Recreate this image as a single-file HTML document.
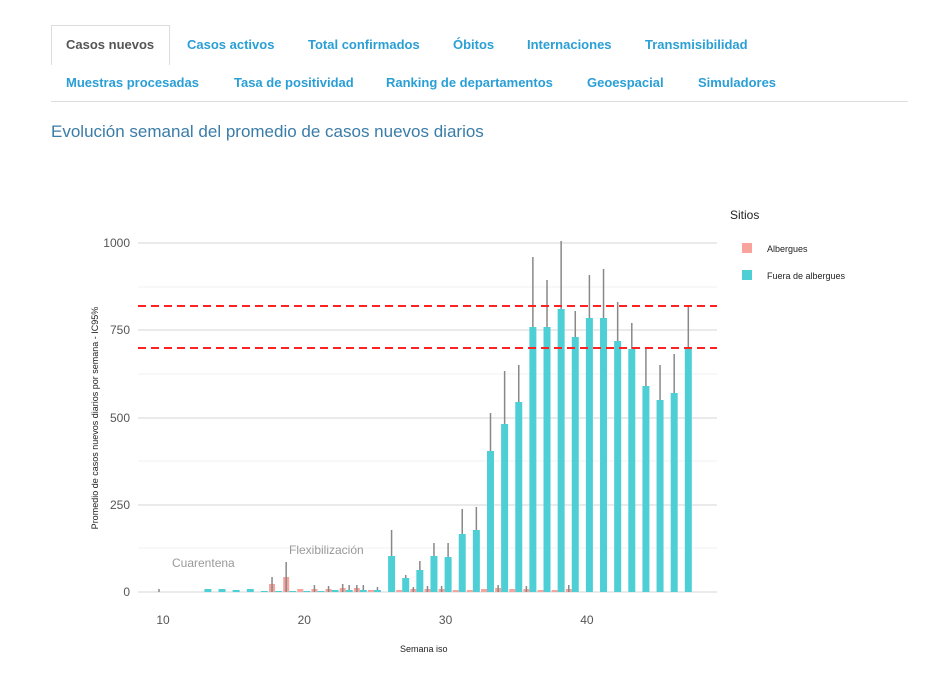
<!DOCTYPE html><html><head><meta charset="utf-8"><style>
body{margin:0;width:929px;height:675px;background:#fff;font-family:"Liberation Sans",sans-serif;position:relative;overflow:hidden}
.t{position:absolute;font-size:13px;font-weight:bold;color:#2a9fd6}
.act{position:absolute;left:51px;top:25px;width:117px;height:39px;border:1px solid #ddd;border-bottom:none;background:#fff}
</style></head><body>
<div class="act"></div>
<div class="t" style="left:66px;top:37px;color:#555">Casos nuevos</div>
<div class="t" style="left:187px;top:37px">Casos activos</div>
<div class="t" style="left:308px;top:37px">Total confirmados</div>
<div class="t" style="left:453px;top:37px">Óbitos</div>
<div class="t" style="left:527px;top:37px">Internaciones</div>
<div class="t" style="left:645px;top:37px">Transmisibilidad</div>
<div class="t" style="left:66px;top:75px">Muestras procesadas</div>
<div class="t" style="left:234px;top:75px">Tasa de positividad</div>
<div class="t" style="left:386px;top:75px">Ranking de departamentos</div>
<div class="t" style="left:587px;top:75px">Geoespacial</div>
<div class="t" style="left:698px;top:75px">Simuladores</div>
<div style="position:absolute;left:51px;top:101px;width:857px;height:1px;background:#ddd"></div>
<div style="position:absolute;left:51px;top:122px;font-size:17px;color:#3a7ca8">Evolución semanal del promedio de casos nuevos diarios</div>
<svg id="s" width="929" height="675" style="position:absolute;left:0;top:0" font-family="Liberation Sans, sans-serif"></svg>
<script>
var s=document.getElementById('s'),h='';
function X(w){return 166+(w-10)*14.13}
[592,505,418,330,243].forEach(function(y){h+='<line x1="138" x2="717" y1="'+y+'" y2="'+y+'" stroke="#d6d6d6"/>'});
[548,461,374,287].forEach(function(y){h+='<line x1="138" x2="717" y1="'+y+'" y2="'+y+'" stroke="#f2f2f2"/>'});
var lab=['0','250','500','750','1000'];[592,505,418,330,243].forEach(function(y,i){h+='<text x="130" y="'+(y+4)+'" font-size="12" fill="#555" text-anchor="end">'+lab[i]+'</text>'});
[10,20,30,40].forEach(function(w){h+='<text x="'+(X(w)-3)+'" y="624" font-size="12" fill="#555" text-anchor="middle">'+w+'</text>'});
var teal={13:589,14:589,15:590,16:589,17:591,18:591,19:591,20:591,21:591,22:590,23:590,24:590,25:590,26:556,27:578,28:570,29:556,30:557,31:534,32:530,33:451,34:424,35:402,36:327,37:327,38:309,39:337,40:318,41:318,42:341,43:349,44:386,45:400,46:393,47:348};
var terr={26:530,27:575,28:561,29:543,30:543,31:509,32:507,33:413,34:371,35:365,36:257,37:280,38:241,39:311,40:275,41:269,42:302,43:323,44:348,45:365,46:354,47:306,23:585,24:585,25:587};
var pink={18:584,19:577,20:589,21:589,22:589,23:588,24:588,25:590,27:590,28:589,29:589,30:589,31:590,32:590,33:589,34:588,35:589,36:589,37:590,38:590,39:589};
var perr={18:577,19:562,21:585,22:586,23:584,24:585,28:587,29:586,30:586,34:585,36:586,39:585,10:589};
for(var w=10;w<=47;w++){var x=X(w);
if(pink[w]){h+='<rect x="'+(x-10)+'" y="'+pink[w]+'" width="6" height="'+(592-pink[w])+'" fill="#f8a39c"/>'}
if(perr[w])h+='<line x1="'+(x-7)+'" x2="'+(x-7)+'" y1="'+perr[w]+'" y2="592" stroke="#888" stroke-width="1.5"/>';
if(teal[w]){h+='<rect x="'+(x-4)+'" y="'+teal[w]+'" width="7" height="'+(592-teal[w])+'" fill="#4ecfd6"/>'}
if(terr[w])h+='<line x1="'+(x-0.5)+'" x2="'+(x-0.5)+'" y1="'+terr[w]+'" y2="'+teal[w]+'" stroke="#888" stroke-width="1.5"/>';}
h+='<line x1="138" x2="717" y1="306" y2="306" stroke="#f22" stroke-width="2" stroke-dasharray="8,5"/>';
h+='<line x1="138" x2="717" y1="348" y2="348" stroke="#f22" stroke-width="2" stroke-dasharray="8,5"/>';
h+='<text x="172" y="567" font-size="12" fill="#999">Cuarentena</text><text x="289" y="554" font-size="12" fill="#999">Flexibilización</text>';
h+='<text x="400" y="652" font-size="9" fill="#222">Semana iso</text>';
h+='<text transform="translate(98,418) rotate(-90)" font-size="9" fill="#222" text-anchor="middle">Promedio de casos nuevos diarios por semana - IC95%</text>';
h+='<text x="730" y="219" font-size="12" fill="#222">Sitios</text>';
h+='<rect x="742" y="243" width="10" height="10" fill="#f8a39c"/><text x="767" y="252" font-size="9" fill="#222">Albergues</text>';
h+='<rect x="742" y="270" width="10" height="10" fill="#4ecfd6"/><text x="767" y="279" font-size="9" fill="#222">Fuera de albergues</text>';
s.innerHTML=h;
</script></body></html>
